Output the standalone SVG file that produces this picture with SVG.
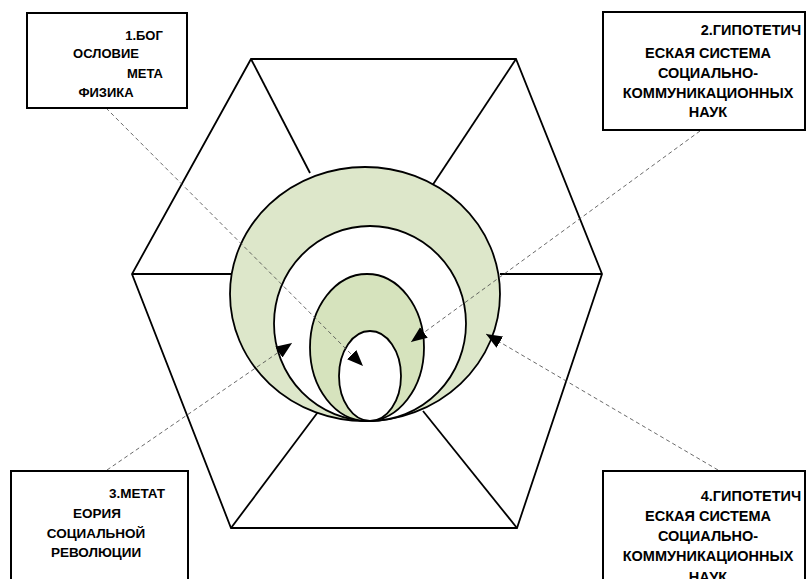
<svg xmlns="http://www.w3.org/2000/svg" width="806" height="579" viewBox="0 0 806 579">
<style>
.hex{fill:none;stroke:#000;stroke-width:1.8;stroke-linejoin:miter}
.ell{stroke:#000;stroke-width:1.8}
.box{fill:#fff;stroke:#000;stroke-width:2}
.t{font-family:"Liberation Sans",Arial,sans-serif;font-weight:bold;fill:#000}
.conn{fill:none;stroke:#444;stroke-width:0.8;stroke-dasharray:4 3}
</style>
<defs>
<marker id="ah" markerUnits="userSpaceOnUse" markerWidth="17" markerHeight="14" refX="16" refY="6.5" orient="auto">
<path d="M0,0 L16,6.5 L0,13 z" fill="#000"/>
</marker>
</defs>
<rect width="806" height="579" fill="#fff"/>
<g id="hexagon">
<polygon class="hex" points="251,59 516,59 602,274 517,528 231,528 132,274"/>
<line class="hex" x1="251" y1="59" x2="310" y2="173"/>
<line class="hex" x1="516" y1="59" x2="432" y2="186"/>
<line class="hex" x1="132" y1="274" x2="231" y2="274"/>
<line class="hex" x1="602" y1="274" x2="500" y2="274"/>
<line class="hex" x1="231" y1="528" x2="318" y2="412"/>
<line class="hex" x1="517" y1="528" x2="423" y2="411"/>
</g>
<g id="circles">
<ellipse class="ell" cx="365" cy="294" rx="135" ry="127" fill="#dde7ca"/>
<ellipse class="ell" cx="370" cy="323.5" rx="96" ry="97.5" fill="#fff"/>
<ellipse class="ell" cx="367" cy="347.5" rx="57" ry="73.5" fill="#d6e3bd"/>
<ellipse class="ell" cx="370" cy="376" rx="31" ry="45" fill="#fff"/>
</g>
<g id="connectors">
<line class="conn" x1="106" y1="108" x2="363" y2="366" marker-end="url(#ah)"/>
<line class="conn" x1="700" y1="131" x2="411" y2="342" marker-end="url(#ah)"/>
<line class="conn" x1="107" y1="470" x2="292" y2="343" marker-end="url(#ah)"/>
<line class="conn" x1="718" y1="470" x2="486" y2="334" marker-end="url(#ah)"/>
</g>
<g id="box1">
<rect class="box" x="27" y="13" width="160" height="95"/>
<text class="t" font-size="13" text-anchor="middle"><tspan x="144" y="40">1.БОГ</tspan><tspan x="106" y="58">ОСЛОВИЕ</tspan><tspan x="145" y="78">МЕТА</tspan><tspan x="106" y="97">ФИЗИКА</tspan></text>
</g>
<g id="box2">
<rect class="box" x="603" y="12" width="202" height="118"/>
<text class="t" font-size="14.5" text-anchor="middle"><tspan x="751" y="35">2.ГИПОТЕТИЧ</tspan><tspan x="708" y="58">ЕСКАЯ СИСТЕМА</tspan><tspan x="708" y="78">СОЦИАЛЬНО-</tspan><tspan x="708" y="98">КОММУНИКАЦИОННЫХ</tspan><tspan x="708" y="117">НАУК</tspan></text>
</g>
<g id="box3">
<rect class="box" x="11" y="471" width="177" height="120"/>
<text class="t" font-size="13.5" text-anchor="middle"><tspan x="137" y="498">3.МЕТАТ</tspan><tspan x="97" y="518">ЕОРИЯ</tspan><tspan x="96" y="538">СОЦИАЛЬНОЙ</tspan><tspan x="96" y="557">РЕВОЛЮЦИИ</tspan></text>
</g>
<g id="box4">
<rect class="box" x="603" y="471" width="202" height="120"/>
<text class="t" font-size="14.5" text-anchor="middle"><tspan x="751" y="501">4.ГИПОТЕТИЧ</tspan><tspan x="708" y="521">ЕСКАЯ СИСТЕМА</tspan><tspan x="708" y="541">СОЦИАЛЬНО-</tspan><tspan x="708" y="561">КОММУНИКАЦИОННЫХ</tspan><tspan x="708" y="582">НАУК</tspan></text>
</g>
</svg>
